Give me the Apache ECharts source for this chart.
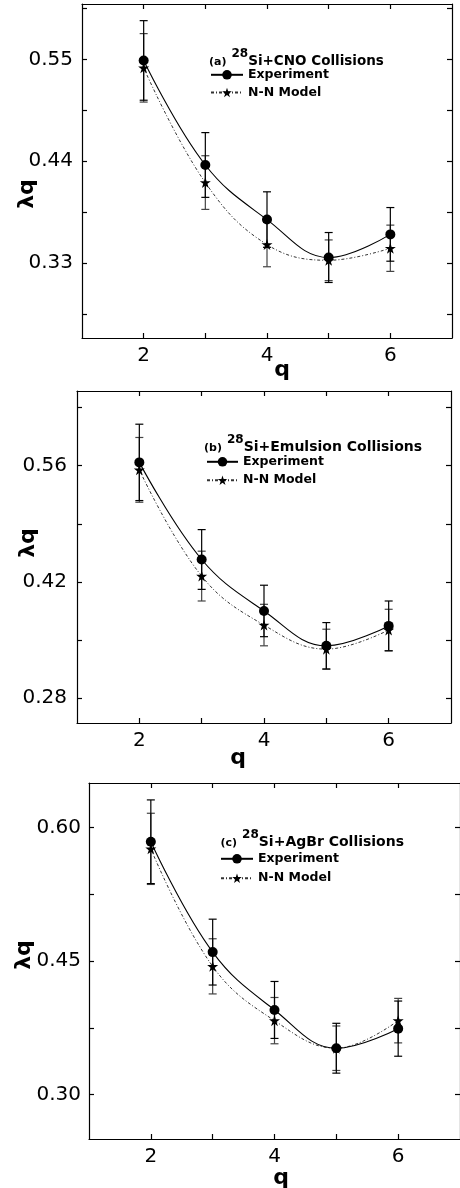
<!DOCTYPE html>
<html>
<head>
<meta charset="utf-8">
<script src="https://cdn.jsdelivr.net/npm/echarts@6/dist/echarts.min.js"></script>
<style>html,body{margin:0;padding:0;background:#fff;}#c{width:460px;height:1188px;}</style>
</head>
<body>
<div id="c"></div>
<script>
// ---- data ----
const qValues = [2, 3, 4, 5, 6];
const xTicks = [2, 3, 4, 5, 6];
const xLabels = [2, 4, 6];

const expA = [0.549, 0.436, 0.377, 0.336, 0.361];
const errExpA = [0.043, 0.035, 0.030, 0.027, 0.029];
const nnA = [0.541, 0.417, 0.350, 0.333, 0.346];
const errNnA = [0.037, 0.029, 0.024, 0.022, 0.025];

const expB = [0.564, 0.447, 0.385, 0.343, 0.367];
const errExpB = [0.046, 0.036, 0.031, 0.028, 0.030];
const nnB = [0.555, 0.427, 0.368, 0.339, 0.362];
const errNnB = [0.039, 0.030, 0.025, 0.024, 0.025];

const expC = [0.584, 0.460, 0.395, 0.352, 0.374];
const errExpC = [0.047, 0.037, 0.032, 0.028, 0.031];
const nnC = [0.576, 0.444, 0.383, 0.352, 0.383];
const errNnC = [0.040, 0.031, 0.026, 0.025, 0.025];

const yTicksA = [0.275, 0.33, 0.385, 0.44, 0.495, 0.55, 0.605];
const yLabelsA = [0.33, 0.44, 0.55];
const yTicksB = [0.28, 0.35, 0.42, 0.49, 0.56, 0.63];
const yLabelsB = [0.28, 0.42, 0.56];
const yTicksC = [0.30, 0.375, 0.45, 0.525, 0.60];
const yLabelsC = [0.30, 0.45, 0.60];

const seriesNames = ['Experiment', 'N-N Model'];
const titlesText = [
  ['(a)', '28', 'Si+CNO Collisions'],
  ['(b)', '28', 'Si+Emulsion Collisions'],
  ['(c)', '28', 'Si+AgBr Collisions']
];

// ---- layout ----
const FONT = 'DejaVu Sans';
const panels = [
  { grid: {left: 82, top: 4, width: 370, height: 334}, ymin: 0.249, ymax: 0.61,
    yTicks: yTicksA, yLabels: yLabelsA, exp: expA, errExp: errExpA, nn: nnA, errNn: errNnA,
    title: {left: 209, top: 48, size: 13.5}, legend: {left: 210, top: 68.3, w: 32, gap: 4.7},
    qName: [282, 370], lqName: [27, 194], labelMargin: 9 },
  { grid: {left: 77, top: 391, width: 374, height: 332}, ymin: 0.25, ymax: 0.65,
    yTicks: yTicksB, yLabels: yLabelsB, exp: expB, errExp: errExpB, nn: nnB, errNn: errNnB,
    title: {left: 204, top: 434, size: 14}, legend: {left: 206, top: 455.3, w: 31, gap: 5.4},
    qName: [238, 758], lqName: [28, 543], labelMargin: 10 },
  { grid: {left: 89, top: 783, width: 378, height: 356}, ymin: 0.25, ymax: 0.65,
    yTicks: yTicksC, yLabels: yLabelsC, exp: expC, errExp: errExpC, nn: nnC, errNn: errNnC,
    title: {left: 220.5, top: 829, size: 14}, legend: {left: 220, top: 852.3, w: 32, gap: 6.4},
    qName: [281, 1178], lqName: [24, 955], labelMargin: 8 }
];

const starPath = 'path://M50,0 L61.2,34.5 L97.6,34.5 L68.2,55.9 L79.4,90.5 L50,69.1 L20.6,90.5 L31.8,55.9 L2.4,34.5 L38.8,34.5 Z';

const option = { animation: false, backgroundColor: '#fff',
  grid: [], xAxis: [], yAxis: [], series: [], legend: [], title: [], graphic: [] };

function errRender(color) {
  return function (params, api) {
    const x = api.value(0), y = api.value(1), e = api.value(2);
    const top = api.coord([x, y + e]);
    const bot = api.coord([x, y - e]);
    const hw = 4;
    const st = { stroke: color, lineWidth: 1.2 };
    return { type: 'group', children: [
      { type: 'line', shape: {x1: top[0], y1: top[1], x2: bot[0], y2: bot[1]}, style: st },
      { type: 'line', shape: {x1: top[0]-hw, y1: top[1], x2: top[0]+hw, y2: top[1]}, style: st },
      { type: 'line', shape: {x1: bot[0]-hw, y1: bot[1], x2: bot[0]+hw, y2: bot[1]}, style: st }
    ]};
  };
}

panels.forEach(function (p, i) {
  option.grid.push(Object.assign({containLabel: false}, p.grid));
  const axLine = { show: true, lineStyle: { color: '#000', width: 1.2 } };
  const tick = (vals) => ({ show: true, inside: true, length: 5, lineStyle: {color: '#000', width: 1.2}, customValues: vals });
  option.xAxis.push({ type: 'value', gridIndex: i, position: 'bottom', min: 1, max: 7,
    axisLine: axLine, axisTick: tick(xTicks), splitLine: {show: false},
    axisLabel: { customValues: xLabels, margin: 8, color: '#000', fontFamily: FONT, fontSize: 20,
      formatter: (v) => String(v) } });
  option.xAxis.push({ type: 'value', gridIndex: i, position: 'top', min: 1, max: 7,
    axisLine: axLine, axisTick: tick(xTicks), splitLine: {show: false}, axisLabel: {show: false} });
  option.yAxis.push({ type: 'value', gridIndex: i, position: 'left', min: p.ymin, max: p.ymax,
    axisLine: axLine, axisTick: tick(p.yTicks), splitLine: {show: false},
    axisLabel: { customValues: p.yLabels, margin: p.labelMargin, color: '#000', fontFamily: FONT, fontSize: 20,
      formatter: (v) => v.toFixed(2) } });
  option.yAxis.push({ type: 'value', gridIndex: i, position: 'right', min: p.ymin, max: p.ymax,
    axisLine: axLine, axisTick: tick(p.yTicks), splitLine: {show: false}, axisLabel: {show: false} });

  const xi = i * 2, yi = i * 2;
  const expData = qValues.map((q, k) => [q, p.exp[k]]);
  const nnData = qValues.map((q, k) => [q, p.nn[k]]);
  const expErr = qValues.map((q, k) => [q, p.exp[k], p.errExp[k]]);
  const nnErr = qValues.map((q, k) => [q, p.nn[k], p.errNn[k]]);

  option.series.push({ type: 'custom', name: 'errNN' + i, xAxisIndex: xi, yAxisIndex: yi,
    renderItem: errRender('#444'), data: nnErr, z: 1, silent: true });
  option.series.push({ type: 'custom', name: 'errExp' + i, xAxisIndex: xi, yAxisIndex: yi,
    renderItem: errRender('#000'), data: expErr, z: 2, silent: true });
  option.series.push({ type: 'line', name: seriesNames[1], xAxisIndex: xi, yAxisIndex: yi,
    data: nnData, smooth: 0.4, symbol: starPath, symbolSize: 11,
    lineStyle: { color: '#333', width: 1, type: [3, 2, 1, 2] },
    itemStyle: { color: '#000' }, z: 3 });
  option.series.push({ type: 'line', name: seriesNames[0], xAxisIndex: xi, yAxisIndex: yi,
    data: expData, smooth: 0.4, symbol: 'circle', symbolSize: 10,
    lineStyle: { color: '#000', width: 1.1 },
    itemStyle: { color: '#000' }, z: 4 });

  option.legend.push({ data: seriesNames, orient: 'vertical', left: p.legend.left, top: p.legend.top,
    padding: 0, itemWidth: p.legend.w, itemHeight: 12, itemGap: p.legend.gap, selectedMode: false,
    textStyle: { fontFamily: FONT, fontWeight: 'bold', fontSize: 12.5, color: '#000', lineHeight: 12 } });

  const t = titlesText[i];
  option.title.push({ left: p.title.left, top: p.title.top, padding: 0,
    text: '{p|' + t[0] + '} {s|' + t[1] + '}{m|' + t[2] + '}',
    textStyle: { rich: {
      p: { fontFamily: FONT, fontWeight: 'bold', fontSize: 11, color: '#000', lineHeight: 20, verticalAlign: 'bottom' },
      s: { fontFamily: FONT, fontWeight: 'bold', fontSize: 12, color: '#000', lineHeight: 12, verticalAlign: 'top' },
      m: { fontFamily: FONT, fontWeight: 'bold', fontSize: p.title.size, color: '#000', lineHeight: 20, verticalAlign: 'bottom' }
    } } });

  option.graphic.push({ type: 'text', x: p.qName[0], y: p.qName[1],
    style: { text: 'q', fontFamily: FONT, fontWeight: 'bold', fontSize: 22, fill: '#000', align: 'center', verticalAlign: 'middle' } });
  option.graphic.push({ type: 'text', x: p.lqName[0], y: p.lqName[1], rotation: Math.PI / 2,
    style: { text: 'λq', fontFamily: FONT, fontWeight: 'bold', fontSize: 22, fill: '#000', align: 'center', verticalAlign: 'middle' } });
});

const chart = echarts.init(document.getElementById('c'), null, { renderer: 'canvas' });
chart.setOption(option);
</script>
</body>
</html>
